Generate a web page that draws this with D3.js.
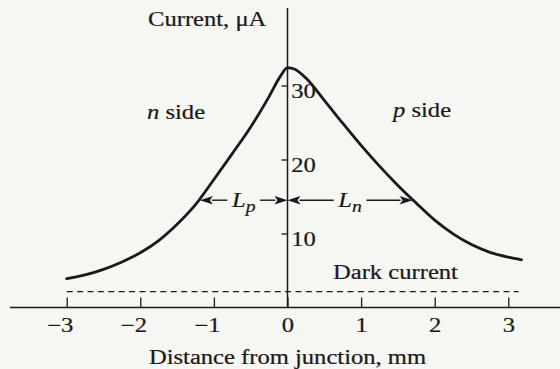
<!DOCTYPE html>
<html>
<head>
<meta charset="utf-8">
<script src="https://cdn.jsdelivr.net/npm/d3@7"></script>
<style>
  html, body { margin: 0; padding: 0; background: #f6f6f3; }
  svg { display: block; }
  text { font-family: "Liberation Serif", "Times New Roman", serif; font-size: 20px; fill: #1a1a1a; stroke: #1a1a1a; stroke-width: 0.22px; }
</style>
</head>
<body>
<svg id="chart" width="560" height="369"></svg>
<script>
// Photocurrent versus distance of the light spot from the junction
const distanceMm = [-3, -2.75, -2.5, -2.25, -2, -1.75, -1.5, -1.25, -1, -0.75, -0.5, -0.25, -0.1, 0,
                    0.1, 0.25, 0.5, 0.75, 1, 1.25, 1.5, 1.75, 2, 2.25, 2.5, 2.75, 3, 3.18];
const currentUA  = [3.9, 4.4, 5.15, 6.15, 7.4, 9.05, 11.25, 13.9, 17.3, 20.8, 24.4, 28.5, 31.2, 32.4,
                    32.2, 31.0, 28.0, 24.9, 21.9, 19.1, 16.5, 14.1, 11.8, 9.95, 8.5, 7.45, 6.8, 6.45];

const xTickValues = [-3, -2, -1, 0, 1, 2, 3];
const yTickValues = [10, 20, 30];

// Dark current level and its extent
const darkCurrentUA = 2.15;
const darkExtentMm = [-3, 3.14];

// Diffusion lengths, marked at the current level where they meet the curve
const diffusionLevelUA = 14.5;
const diffusionLengthP = 1.19;   // n side
const diffusionLengthN = 1.70;   // p side

const ink = "#1a1a1a";
const stretch = "scale(1.23,1)";

const svg = d3.select("#chart");

const x = d3.scaleLinear().domain([-3, 3]).range([66.7, 508.3]);
const y = d3.scaleLinear().domain([0, 30]).range([307.5, 85.5]);

// Horizontal axis line across the page
svg.append("line")
  .attr("x1", 10).attr("x2", 560)
  .attr("y1", y(0)).attr("y2", y(0))
  .attr("stroke", ink).attr("stroke-width", 1.5);

// Vertical axis line at the junction
svg.append("line")
  .attr("x1", x(0)).attr("x2", x(0))
  .attr("y1", 8).attr("y2", y(0))
  .attr("stroke", ink).attr("stroke-width", 1.5);

// x ticks point upward, labels below
const xAxis = svg.append("g")
  .attr("transform", `translate(0,${y(0)})`)
  .call(d3.axisBottom(x).tickValues(xTickValues).tickSizeInner(-10).tickSizeOuter(0).tickFormat(d3.format("d")));
xAxis.select(".domain").remove();
xAxis.selectAll(".tick line").attr("stroke", ink).attr("stroke-width", 1.3);
xAxis.selectAll(".tick text")
  .attr("x", 5).attr("y", 24.5).attr("dy", null)
  .attr("text-anchor", "end")
  .attr("transform", stretch)
  .attr("fill", ink);

// y ticks on the left of the axis, labels to the right
const yAxis = svg.append("g")
  .attr("transform", `translate(${x(0)},0)`)
  .call(d3.axisLeft(y).tickValues(yTickValues).tickSizeInner(6).tickSizeOuter(0).tickFormat(d3.format("d")));
yAxis.select(".domain").remove();
yAxis.selectAll(".tick line").attr("stroke", ink).attr("stroke-width", 1.3);
yAxis.selectAll(".tick text")
  .attr("x", 3).attr("y", 12).attr("dy", null)
  .attr("text-anchor", "start")
  .attr("transform", stretch)
  .attr("fill", ink);

// Dark current (dashed)
svg.append("line")
  .attr("x1", x(darkExtentMm[0])).attr("x2", x(darkExtentMm[1]))
  .attr("y1", y(darkCurrentUA)).attr("y2", y(darkCurrentUA))
  .attr("stroke", ink).attr("stroke-width", 1.3)
  .attr("stroke-dasharray", "6,4.4");

// Photocurrent curve
const points = distanceMm.map((d, i) => [d, currentUA[i]]);
svg.append("path")
  .datum(points)
  .attr("fill", "none")
  .attr("stroke", ink)
  .attr("stroke-width", 2.8)
  .attr("stroke-linecap", "round")
  .attr("d", d3.line().x(d => x(d[0])).y(d => y(d[1])).curve(d3.curveMonotoneX));

// Text helper: stretched serif text placed at (px, py)
function label(px, py, anchor) {
  return svg.append("g").attr("transform", `translate(${px},${py})`)
    .append("text")
    .attr("text-anchor", anchor || "start")
    .attr("transform", stretch);
}

label(148, 26).text("Current, \u03bcA");
const nSide = label(147, 119);
nSide.append("tspan").attr("font-style", "italic").text("n");
nSide.append("tspan").text(" side");
const pSide = label(393, 117);
pSide.append("tspan").attr("font-style", "italic").text("p");
pSide.append("tspan").text(" side");
label(333, 279).text("Dark current");
label(x(0), 364, "middle").text("Distance from junction, mm");

// Double-headed dimension arrow with a label in the middle
function dimension(d0, d1, level, sub) {
  const xa = x(d0), xb = x(d1), yy = y(level);
  const mid = (xa + xb) / 2;
  const t = label(mid, yy + 6.5, "middle");
  t.append("tspan").attr("font-style", "italic").text("L");
  t.append("tspan").attr("font-style", "italic").attr("font-size", 16).attr("dy", 5).text(sub);
  const w = t.node().getBBox().width * 1.23;
  const gap = 4, head = 13, half = 4.2;
  const segs = [[xa + head - 1, mid - w / 2 - gap], [mid + w / 2 + gap, xb - head + 1]];
  segs.forEach(s => svg.append("line")
    .attr("x1", s[0]).attr("x2", s[1]).attr("y1", yy).attr("y2", yy)
    .attr("stroke", ink).attr("stroke-width", 1.4));
  svg.append("path")
    .attr("d", `M${xa},${yy}L${xa + head},${yy - half}L${xa + head - 3},${yy}L${xa + head},${yy + half}Z`)
    .attr("fill", ink);
  svg.append("path")
    .attr("d", `M${xb},${yy}L${xb - head},${yy - half}L${xb - head + 3},${yy}L${xb - head},${yy + half}Z`)
    .attr("fill", ink);
}

dimension(-diffusionLengthP, 0, diffusionLevelUA, "p");
dimension(0, diffusionLengthN, diffusionLevelUA, "n");
</script>
</body>
</html>
